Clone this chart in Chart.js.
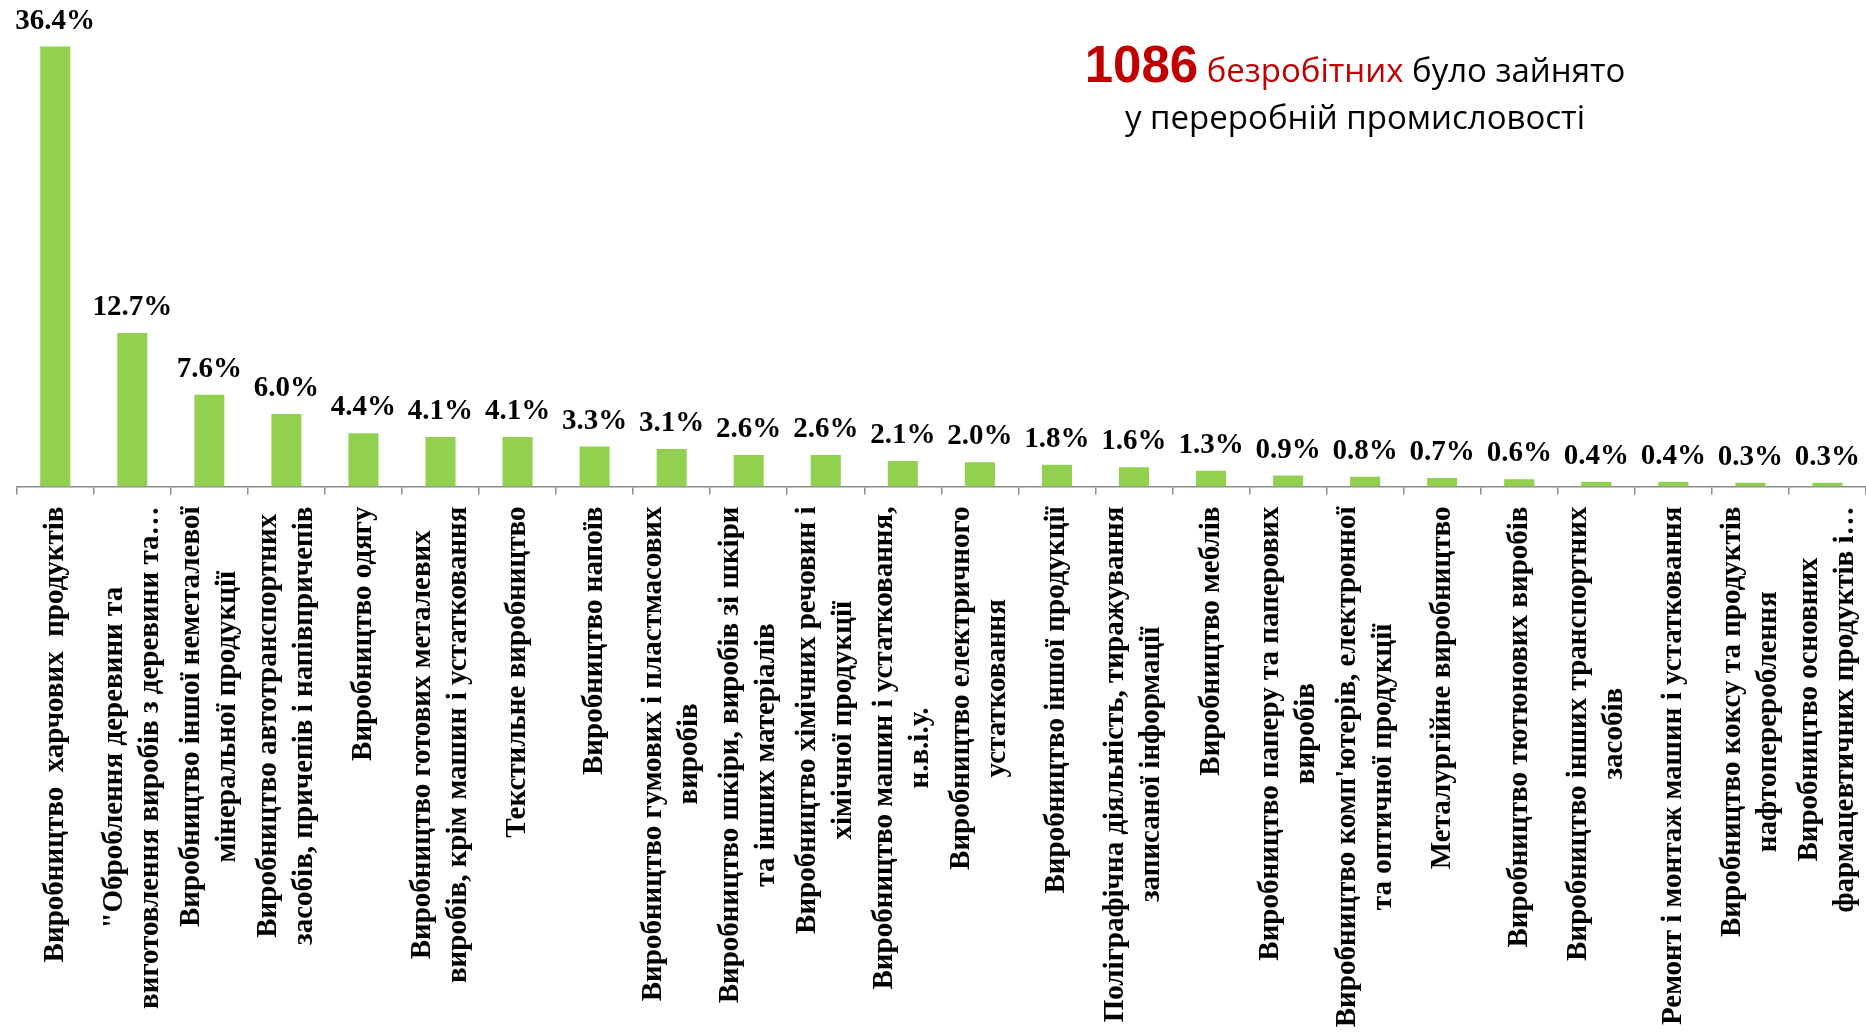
<!DOCTYPE html>
<html lang="uk">
<head>
<meta charset="utf-8">
<script src="https://cdn.jsdelivr.net/npm/chart.js@4.4.1/dist/chart.umd.min.js"></script>
<style>
  html, body { margin: 0; padding: 0; background: #fff; }
  #wrap { position: relative; width: 1866px; height: 1034px; overflow: hidden; }
  #chart { position: absolute; left: 0; top: 0; }
  #note { position: absolute; left: 955px; top: 0; width: 800px; height: 150px; text-align: center; white-space: nowrap;
          font-family: "Open Sans", "Noto Sans", sans-serif; font-size: 33px; color: #000; }
  #note .l1 { position: absolute; left: 0; width: 800px; top: 43px; line-height: 44px; }
  #note .l2 { position: absolute; left: 0; width: 800px; top: 95px; line-height: 44px; }
  #note .num { font-family: "Liberation Sans", Arial, sans-serif; font-weight: bold; font-size: 51px; color: #C00000; }
  #note .red { color: #C00000; }
</style>
</head>
<body>
<div id="wrap">
  <canvas id="chart" width="1866" height="1034"></canvas>
  <div id="note">
    <div class="l1"><span class="num">1086</span> <span class="red">безробітних</span> було зайнято</div>
    <div class="l2">у переробній промисловості</div>
  </div>
</div>
<script>
/* ── data ─────────────────────────────────────────────────────────── */
const CATEGORIES = [
  ['Виробництво  харчових  продуктів'],
  ['"Оброблення деревини та', 'виготовлення виробів з деревини та…'],
  ['Виробництво іншої неметалевої', 'мінеральної продукції'],
  ['Виробництво автотранспортних', 'засобів, причепів і напівпричепів'],
  ['Виробництво одягу'],
  ['Виробництво готових металевих', 'виробів, крім машин і устатковання'],
  ['Текстильне виробництво'],
  ['Виробництво напоїв'],
  ['Виробництво гумових і пластмасових', 'виробів'],
  ['Виробництво шкіри, виробів зі шкіри', 'та інших матеріалів'],
  ['Виробництво хімічних речовин і', 'хімічної продукції'],
  ['Виробництво машин і устатковання,', 'н.в.і.у.'],
  ['Виробництво електричного', 'устатковання'],
  ['Виробництво іншої продукції'],
  ['Поліграфічна діяльність, тиражування', 'записаної інформації'],
  ['Виробництво меблів'],
  ['Виробництво паперу та паперових', 'виробів'],
  ["Виробництво комп'ютерів, електронної", 'та оптичної продукції'],
  ['Металургійне виробництво'],
  ['Виробництво тютюнових виробів'],
  ['Виробництво інших транспортних', 'засобів'],
  ['Ремонт і монтаж машин і устатковання'],
  ['Виробництво коксу та продуктів', 'нафтоперероблення'],
  ['Виробництво основних', 'фармацевтичних продуктів і…'],
];
const SHARES = [36.4, 12.7, 7.6, 6.0, 4.4, 4.1, 4.1, 3.3, 3.1, 2.6, 2.6, 2.1,
                2.0, 1.8, 1.6, 1.3, 0.9, 0.8, 0.7, 0.6, 0.4, 0.4, 0.3, 0.3];
const Y_MAX = 40;

const BAR_COLOR  = '#92D050';
const AXIS_COLOR = '#8c8c8c';
const SERIF_BOLD = (px) => `bold ${px}px "Liberation Serif", "Times New Roman", serif`;

// value labels above each bar
const valueLabels = {
  id: 'valueLabels',
  afterDatasetsDraw(chart) {
    const { ctx } = chart;
    const meta = chart.getDatasetMeta(0);
    ctx.save();
    ctx.font = SERIF_BOLD(29);
    ctx.fillStyle = '#000';
    ctx.textAlign = 'center';
    ctx.textBaseline = 'alphabetic';
    meta.data.forEach((bar, i) => {
      ctx.fillText(SHARES[i].toFixed(1) + '%', bar.x, bar.y - 18);
    });
    ctx.restore();
  },
};

// rotated, centred multi-line category labels under the axis
const categoryLabels = {
  id: 'categoryLabels',
  afterDraw(chart) {
    const { ctx } = chart;
    const xs = chart.scales.x;
    const top = xs.top + 20;
    const lh = 36;
    ctx.save();
    ctx.font = SERIF_BOLD(29);
    ctx.fillStyle = '#000';
    ctx.textAlign = 'center';
    ctx.textBaseline = 'middle';
    CATEGORIES.forEach((lines, i) => {
      const cx = xs.getPixelForTick(i);
      const w = Math.max(...lines.map(l => ctx.measureText(l).width));
      const mid = top + w / 2;
      lines.forEach((l, k) => {
        const x = cx + (k - (lines.length - 1) / 2) * lh;
        ctx.save();
        ctx.translate(x, mid);
        ctx.rotate(-Math.PI / 2);
        ctx.fillText(l, 0, 0);
        ctx.restore();
      });
    });
    ctx.restore();
  },
};

new Chart(document.getElementById('chart').getContext('2d'), {
  type: 'bar',
  data: {
    labels: CATEGORIES,
    datasets: [{
      data: SHARES,
      backgroundColor: BAR_COLOR,
      borderWidth: 0,
      barPercentage: 0.39,
      categoryPercentage: 1.0,
    }],
  },
  options: {
    responsive: false,
    devicePixelRatio: 1,
    animation: false,
    layout: { padding: { top: 3, right: 0, bottom: 539.5, left: 16.7 } },
    plugins: { legend: { display: false }, tooltip: { enabled: false }, title: { display: false } },
    scales: {
      x: {
        grid: { display: true, drawOnChartArea: false, drawTicks: true, tickLength: 8,
                color: AXIS_COLOR, lineWidth: 1.5 },
        border: { display: true, color: AXIS_COLOR, width: 1.5 },
        ticks: { display: false },
      },
      y: {
        display: false,
        min: 0,
        max: Y_MAX,
      },
    },
  },
  plugins: [valueLabels, categoryLabels],
});
</script>
</body>
</html>
